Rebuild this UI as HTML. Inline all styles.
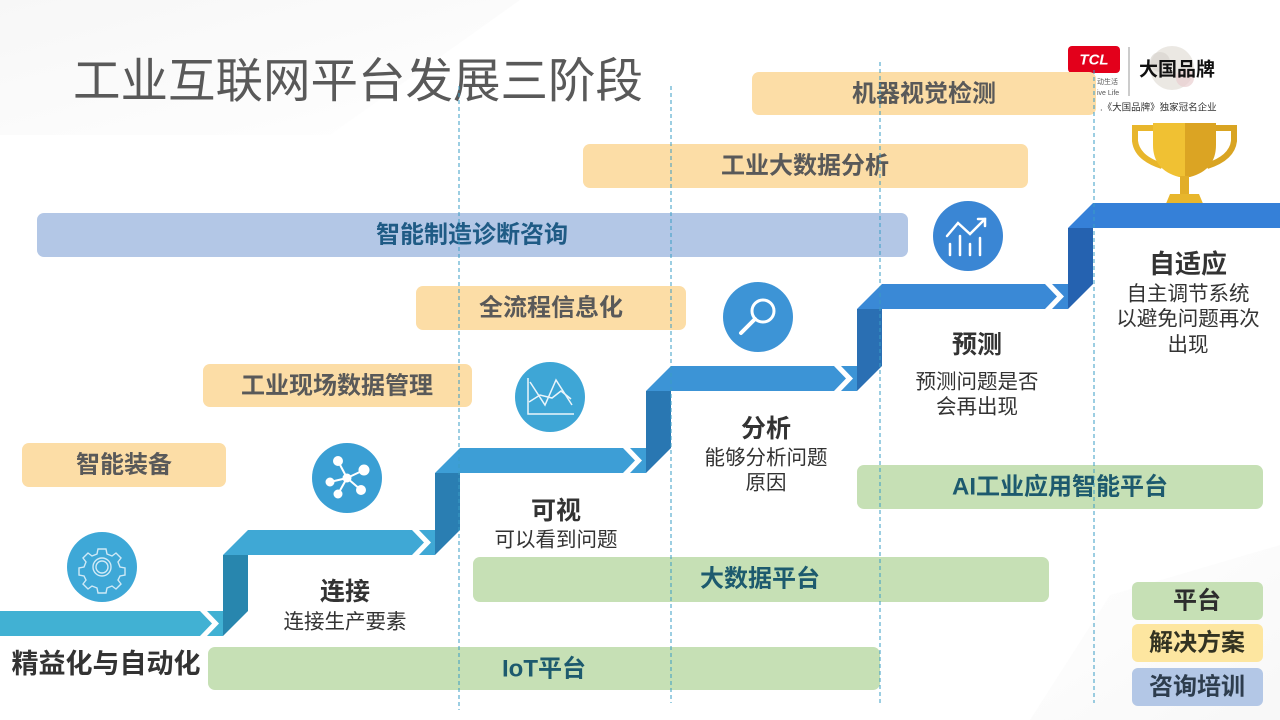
<!DOCTYPE html>
<html><head><meta charset="utf-8">
<style>
html,body{margin:0;padding:0;background:#fff;}
svg{display:block;}
text{font-family:"Liberation Sans","Noto Sans CJK SC",sans-serif;}
.b{font-weight:700;}
</style></head>
<body>
<svg width="1280" height="720" viewBox="0 0 1280 720" xmlns="http://www.w3.org/2000/svg">
<defs>
<linearGradient id="bg1" x1="0" y1="0" x2="1" y2="1">
<stop offset="0" stop-color="#efefef"/><stop offset="0.7" stop-color="#fafafa"/><stop offset="1" stop-color="#ffffff"/>
</linearGradient>
<linearGradient id="bg2" x1="1" y1="1" x2="0" y2="0">
<stop offset="0" stop-color="#f0f0f0"/><stop offset="1" stop-color="#ffffff"/>
</linearGradient>
</defs>
<rect width="1280" height="720" fill="#fff"/>
<polygon points="0,0 520,0 330,135 0,135" fill="url(#bg1)" opacity="0.5"/>
<polygon points="1030,720 1110,595 1280,545 1280,720" fill="url(#bg2)" opacity="0.5"/>

<!-- Title -->
<text x="73" y="82" font-size="47.5" fill="#595959" dominant-baseline="central">工业互联网平台发展三阶段</text>

<!-- TCL logo -->
<rect x="1068" y="46" width="52" height="27" rx="4" fill="#e3001b"/>
<text x="1094" y="60" font-size="15" class="b" fill="#fff" text-anchor="middle" dominant-baseline="central" font-style="italic">TCL</text>
<text x="1097" y="84" font-size="7" fill="#555">动生活</text>
<text x="1097" y="95" font-size="7" fill="#555">ive Life</text>
<line x1="1129" y1="47" x2="1129" y2="96" stroke="#999" stroke-width="1"/>
<circle cx="1172" cy="68" r="22" fill="#e6e2dc" opacity="0.8"/>
<circle cx="1160" cy="62" r="10" fill="#d8d4cf" opacity="0.7"/>
<circle cx="1185" cy="78" r="9" fill="#e9cfd0" opacity="0.7"/>
<text x="1139" y="70" font-size="19" fill="#111" class="b" font-family="Liberation Serif, Noto Serif CJK SC, serif" dominant-baseline="central">大国品牌</text>
<text x="1100" y="108" font-size="9.5" fill="#333" dominant-baseline="central">.《大国品牌》独家冠名企业</text>

<!-- Trophy -->
<path d="M1155,128 L1135,128 L1135,141 Q1137,158 1162,166" fill="none" stroke="#e8b62c" stroke-width="6"/>
<path d="M1214,128 L1234,128 L1234,141 Q1232,158 1207,166" fill="none" stroke="#d9a422" stroke-width="6"/>
<path d="M1153,123 L1185,123 L1185,177 L1179,177 Q1153,170 1153,145 Z" fill="#f0c133"/>
<path d="M1185,123 L1216,123 L1216,145 Q1216,170 1190,177 L1185,177 Z" fill="#dba423"/>
<rect x="1180" y="176" width="9" height="18" fill="#e2ae28"/>
<path d="M1170,194 L1199,194 L1204,206 L1165,206 Z" fill="#e8b62c"/>

<!-- Boxes: solutions (orange) -->
<rect x="752" y="72" width="344" height="43" rx="7" fill="#fcdda6"/>
<rect x="583" y="144" width="445" height="44" rx="7" fill="#fcdda6"/>
<rect x="416" y="286" width="270" height="44" rx="7" fill="#fcdda6"/>
<rect x="203" y="364" width="269" height="43" rx="7" fill="#fcdda6"/>
<rect x="22" y="443" width="204" height="44" rx="7" fill="#fcdda6"/>
<!-- consulting (blue) -->
<rect x="37" y="213" width="871" height="44" rx="7" fill="#b3c7e6"/>
<!-- platforms (green) -->
<rect x="857" y="465" width="406" height="44" rx="7" fill="#c6e0b5"/>
<rect x="473" y="557" width="576" height="45" rx="7" fill="#c6e0b5"/>
<rect x="208" y="647" width="672" height="43" rx="7" fill="#c6e0b5"/>

<g font-size="24" class="b" text-anchor="middle" dominant-baseline="central">
<text x="924" y="94" fill="#595959">机器视觉检测</text>
<text x="805" y="166" fill="#595959">工业大数据分析</text>
<text x="551" y="308" fill="#595959">全流程信息化</text>
<text x="337" y="386" fill="#595959">工业现场数据管理</text>
<text x="124" y="465" fill="#595959">智能装备</text>
<text x="472" y="235" fill="#1f5b85">智能制造诊断咨询</text>
<text x="1060" y="487" fill="#1d5a6e">AI工业应用智能平台</text>
<text x="760" y="579" fill="#1d5a6e">大数据平台</text>
<text x="544" y="669" fill="#1d5a6e">IoT平台</text>
</g>

<!-- Staircase -->
<polygon points="0,611 200,611 212,623.5 200,636 0,636" fill="#41b1d3"/>
<polygon points="207,611 223,611 223,636 207,636 219,623.5" fill="#41b1d3"/>
<polygon points="223,555 248,555 248,611 223,636" fill="#2886ae"/>
<polygon points="248,530 412,530 424,542.5 412,555 223,555" fill="#3fa8d5"/>
<polygon points="419,530 435,530 435,555 419,555 431,542.5" fill="#3fa8d5"/>
<polygon points="435,473 460,473 460,530 435,555" fill="#2a7eb2"/>
<polygon points="460,448 623,448 635,460.5 623,473 435,473" fill="#3d9ed6"/>
<polygon points="630,448 646,448 646,473 630,473 642,460.5" fill="#3d9ed6"/>
<polygon points="646,391 671,391 671,448 646,473" fill="#2977b2"/>
<polygon points="671,366 834,366 846,378.5 834,391 646,391" fill="#3c94d6"/>
<polygon points="841,366 857,366 857,391 841,391 853,378.5" fill="#3c94d6"/>
<polygon points="857,309 882,309 882,366 857,391" fill="#2a6fb3"/>
<polygon points="882,284 1045,284 1057,296.5 1045,309 857,309" fill="#3a89d6"/>
<polygon points="1052,284 1068,284 1068,309 1052,309 1064,296.5" fill="#3a89d6"/>
<polygon points="1068,228 1093,228 1093,284 1068,309" fill="#2562b0"/>
<polygon points="1093,203 1280,203 1280,228 1068,228" fill="#3580d8"/>

<!-- Icon circles -->
<circle cx="102" cy="567" r="35" fill="#3ea8d7"/>
<g fill="none" stroke="#cfe9f6" stroke-width="1.4">
<circle cx="102" cy="567" r="9"/>
<circle cx="102" cy="567" r="6"/>
<path d="M98,549 L106,549 L107,554 L112,556 L116,553 L121,558 L118,562 L120,567 L125,568 L125,575 L120,576 L118,580 L121,584 L116,589 L112,586 L107,588 L106,593 L98,593 L97,588 L92,586 L88,589 L83,584 L86,580 L84,576 L79,575 L79,568 L84,567 L86,562 L83,558 L88,553 L92,556 L97,554 Z"/>
</g>

<circle cx="347" cy="478" r="35" fill="#3a9fd4"/>
<g stroke="#fff" stroke-width="2" fill="#fff">
<line x1="347" y1="478" x2="338" y2="461"/>
<line x1="347" y1="478" x2="364" y2="470"/>
<line x1="347" y1="478" x2="330" y2="482"/>
<line x1="347" y1="478" x2="338" y2="494"/>
<line x1="347" y1="478" x2="361" y2="490"/>
<circle cx="347" cy="478" r="3.5"/>
<circle cx="338" cy="461" r="4"/>
<circle cx="364" cy="470" r="4.5"/>
<circle cx="330" cy="482" r="3.5"/>
<circle cx="338" cy="494" r="3.5"/>
<circle cx="361" cy="490" r="4"/>
</g>

<circle cx="550" cy="397" r="35" fill="#3ea6d6"/>
<g fill="none" stroke="#eaf5fb" stroke-width="1.5">
<polyline points="528,378 528,414 574,414"/>
<polyline points="530,382 545,405 556,380 572,405"/>
<polyline points="529,402 540,395 552,398 561,391 571,399"/>
</g>

<circle cx="758" cy="317" r="35" fill="#3d94d6"/>
<g fill="none" stroke="#fff" stroke-width="3">
<circle cx="763" cy="311" r="11"/>
<line x1="755" y1="319" x2="741" y2="333" stroke-width="4" stroke-linecap="round"/>
</g>

<circle cx="968" cy="236" r="35" fill="#3a86d4"/>
<g fill="none" stroke="#fff" stroke-width="2.5" stroke-linecap="round">
<line x1="950" y1="244" x2="950" y2="255"/>
<line x1="960" y1="236" x2="960" y2="255"/>
<line x1="970" y1="244" x2="970" y2="255"/>
<line x1="980" y1="238" x2="980" y2="255"/>
<polyline points="947,236 958,223 970,234 985,219"/>
<polyline points="978,219 985,219 985,226"/>
</g>

<!-- Stage labels -->
<g fill="#333" text-anchor="middle" dominant-baseline="central">
<text x="106" y="664" font-size="27" class="b">精益化与自动化</text>
<text x="345" y="592" font-size="25" class="b">连接</text>
<text x="345" y="622" font-size="20.5">连接生产要素</text>
<text x="556" y="511" font-size="25" class="b">可视</text>
<text x="556" y="540" font-size="20.5">可以看到问题</text>
<text x="766" y="429" font-size="25" class="b">分析</text>
<text x="766" y="458" font-size="20.5">能够分析问题</text>
<text x="766" y="483" font-size="20.5">原因</text>
<text x="977" y="345" font-size="25" class="b">预测</text>
<text x="977" y="382" font-size="20.5">预测问题是否</text>
<text x="977" y="407" font-size="20.5">会再出现</text>
<text x="1188" y="264" font-size="26" class="b">自适应</text>
<text x="1188" y="294" font-size="20.5">自主调节系统</text>
<text x="1188" y="319" font-size="20.5">以避免问题再次</text>
<text x="1188" y="345" font-size="20.5">出现</text>
</g>

<!-- Legend -->
<rect x="1132" y="582" width="131" height="38" rx="6" fill="#c6e0b5"/>
<rect x="1132" y="624" width="131" height="38" rx="6" fill="#fde6a0"/>
<rect x="1132" y="668" width="131" height="38" rx="6" fill="#b3c7e6"/>
<g font-size="24" class="b" text-anchor="middle" dominant-baseline="central">
<text x="1197" y="601" fill="#2d2d2d">平台</text>
<text x="1197" y="643" fill="#333322">解决方案</text>
<text x="1197" y="687" fill="#2e3d4e">咨询培训</text>
</g>

<!-- Dashed guide lines -->
<g stroke="#3a9cc4" stroke-width="1" stroke-dasharray="4,3">
<line x1="459" y1="86" x2="459" y2="710"/>
<line x1="671" y1="86" x2="671" y2="703"/>
<line x1="880" y1="62" x2="880" y2="703"/>
<line x1="1094" y1="70" x2="1094" y2="703"/>
</g>
</svg>
</body></html>
